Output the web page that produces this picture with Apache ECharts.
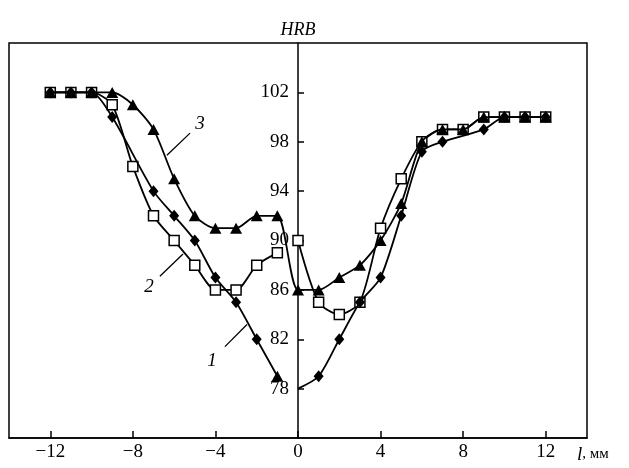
<!DOCTYPE html>
<html>
<head>
<meta charset="utf-8">
<script src="https://cdn.jsdelivr.net/npm/echarts@6/dist/echarts.min.js"></script>
<style>html,body{margin:0;padding:0;background:#fff}#c{width:629px;height:468px}</style>
</head>
<body>
<div id="c"></div>
<script>
// ---- data ----
const xTicks = [-12, -8, -4, 0, 4, 8, 12];
const yTicks = [78, 82, 86, 90, 94, 98, 102];

// curve 1 (diamonds) - left and right branches
const c1LeftX = [-12, -11, -10, -9, -7, -6, -5, -4, -3, -2, -1];
const c1LeftY = [102, 102, 102, 100, 94, 92, 90, 87, 85, 82, 79];
const c1RightX = [0, 1, 2, 3, 4, 5, 6, 7, 9, 10, 11, 12];
const c1RightY = [78, 79, 82, 85, 87, 92, 97.2, 98, 99, 100, 100, 100];

// curve 2 (open squares)
const c2LeftX = [-12, -11, -10, -9, -8, -7, -6, -5, -4, -3, -2, -1];
const c2LeftY = [102, 102, 102, 101, 96, 92, 90, 88, 86, 86, 88, 89];
const c2RightX = [0, 1, 2, 3, 4, 5, 6, 7, 8, 9, 10, 11, 12];
const c2RightY = [90, 85, 84, 85, 91, 95, 98, 99, 99, 100, 100, 100, 100];

// curve 3 (triangles)
const c3X = [-12, -11, -10, -9, -8, -7, -6, -5, -4, -3, -2, -1, 0, 1, 2, 3, 4, 5, 6, 7, 8, 9, 10, 11, 12];
const c3Y = [102, 102, 102, 102, 101, 99, 95, 92, 91, 91, 92, 92, 86, 86, 87, 88, 90, 93, 98, 99, 99, 100, 100, 100, 100];

// curve labels and leader lines (data coordinates)
const curveLabels = ['1', '2', '3'];
const labelPos = [[-4.17, 80.2], [-7.22, 86.2], [-4.75, 99.4]];
const leaderFrom = [[-3.54, 81.4], [-6.69, 87.1], [-5.23, 98.7]];
const leaderTo = [[-2.47, 83.2], [-5.57, 88.9], [-6.35, 96.9]];

// ---- chart ----
const zip = (xs, ys) => xs.map((x, i) => [x, ys[i]]);
const FONT = 'Liberation Serif';
const fmt = v => String(v).replace('-', '\u2212');

const W = 629, GL = 9, GR = 42, XMIN = -14, XMAX = 14;
const yAxisShift = -(0 - XMIN) / (XMAX - XMIN) * (W - GL - GR); // put the y axis at x = 0

const lineStyle = { color: '#000', width: 1.8 };
const sq = { type: 'line', smooth: 0.25, symbol: 'rect', symbolSize: 10, lineStyle: lineStyle,
  itemStyle: { color: '#fff', borderColor: '#000', borderWidth: 1.5 }, z: 2 };
const dm = { type: 'line', smooth: 0.25, symbol: 'diamond', symbolSize: [10, 12], lineStyle: lineStyle,
  itemStyle: { color: '#000', borderColor: '#000', borderWidth: 0 }, z: 3 };
const tr = { type: 'line', smooth: 0.25, symbol: 'triangle', symbolSize: [12, 11], lineStyle: lineStyle,
  itemStyle: { color: '#000', borderColor: '#000', borderWidth: 0 }, z: 4 };

const c1L = zip(c1LeftX, c1LeftY).map((p, i, a) => i === a.length - 1 ? { value: p, symbol: 'triangle', symbolSize: [12, 11] } : p);
const c1R = zip(c1RightX, c1RightY).map((p, i) => i === 0 ? { value: p, symbol: 'none' } : p);

const chart = echarts.init(document.getElementById('c'), null, { renderer: 'canvas' });
const option = {
  animation: false,
  backgroundColor: '#fff',
  grid: { left: GL, right: GR, top: 43, bottom: 30, show: true, borderColor: '#000', borderWidth: 1.5,
    containLabel: false, outerBoundsMode: 'none' },
  xAxis: {
    type: 'value', min: XMIN, max: XMAX,
    axisLine: { onZero: false, lineStyle: { color: '#000', width: 1.5 } },
    axisTick: { inside: true, length: 7, customValues: xTicks, lineStyle: { color: '#000', width: 1.5 } },
    axisLabel: { customValues: xTicks, formatter: fmt, fontFamily: FONT, fontSize: 19, color: '#000', margin: 5 },
    splitLine: { show: false },
    name: '{i|l}, мм', nameLocation: 'end', nameGap: -10,
    nameTextStyle: { fontFamily: FONT, fontSize: 15, color: '#000', verticalAlign: 'top', padding: [7, 0, 0, 0],
      rich: { i: { fontFamily: FONT, fontStyle: 'italic', fontSize: 19, color: '#000' } } }
  },
  yAxis: {
    type: 'value', min: 74, max: 106, position: 'left', offset: yAxisShift,
    axisLine: { onZero: false, lineStyle: { color: '#000', width: 1.5 } },
    axisTick: { inside: true, length: 6, customValues: yTicks, lineStyle: { color: '#000', width: 1.5 } },
    axisLabel: { customValues: yTicks, fontFamily: FONT, fontSize: 19, color: '#000', margin: 9 },
    splitLine: { show: false },
    name: 'HRB', nameLocation: 'end', nameGap: 4,
    nameTextStyle: { fontFamily: FONT, fontStyle: 'italic', fontSize: 18, color: '#000' }
  },
  series: [
    Object.assign({ name: '2L', data: zip(c2LeftX, c2LeftY) }, sq),
    Object.assign({ name: '2R', data: zip(c2RightX, c2RightY) }, sq),
    Object.assign({ name: '1L', data: c1L }, dm),
    Object.assign({ name: '1R', data: c1R }, dm),
    Object.assign({ name: '3', data: zip(c3X, c3Y) }, tr)
  ]
};
chart.setOption(option);

const px = p => chart.convertToPixel({ gridIndex: 0 }, p);
const graphics = [];
curveLabels.forEach((t, i) => {
  const a = px(leaderFrom[i]), b = px(leaderTo[i]), c = px(labelPos[i]);
  graphics.push({ type: 'line', shape: { x1: a[0], y1: a[1], x2: b[0], y2: b[1] }, style: { stroke: '#000', lineWidth: 1.3 }, z: 10 });
  graphics.push({ type: 'text', x: c[0], y: c[1], style: { text: t, font: 'italic 19px "Liberation Serif"', fill: '#000', align: 'center', verticalAlign: 'middle' }, z: 10 });
});
chart.setOption({ graphic: graphics });
</script>
</body>
</html>
